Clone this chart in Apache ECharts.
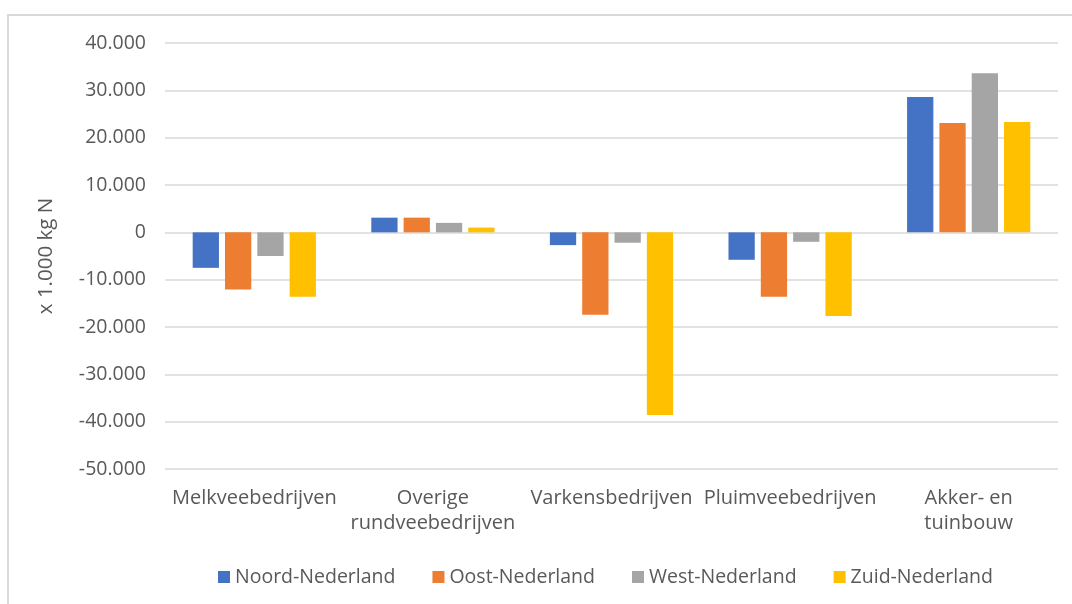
<!DOCTYPE html>
<html>
<head>
<meta charset="utf-8">
<script src="https://cdn.jsdelivr.net/npm/echarts@6/dist/echarts.min.js"></script>
<style>
  html, body { margin: 0; padding: 0; background: #fff; }
  #frame {
    position: absolute; left: 7px; top: 14px; width: 1065px; height: 590px;
    border-left: 2px solid #d9d9d9; border-top: 2px solid #d9d9d9;
    box-sizing: border-box;
  }
  #chart { position: absolute; left: 0; top: 0; width: 1072px; height: 604px; }
</style>
</head>
<body>
<div id="frame"></div>
<div id="chart"></div>
<script>
// categorieën (x-as)
const categories = [
  "Melkveebedrijven",
  "Overige\nrundveebedrijven",
  "Varkensbedrijven",
  "Pluimveebedrijven",
  "Akker- en\ntuinbouw",
];

// waarden in kg N (as toont x 1.000)
const noord = [-7500, 3100, -2700, -5800, 28600];
const oost = [-12100, 3100, -17400, -13600, 23100];
const west = [-5000, 2000, -2200, -2000, 33600];
const zuid = [-13600, 1000, -38600, -17700, 23300];

const seriesNames = ["Noord-Nederland", "Oost-Nederland", "West-Nederland", "Zuid-Nederland"];
const seriesColors = ["#4472C4", "#ED7D31", "#A5A5A5", "#FFC000"];

const textColor = "#595959";
const fontFamily = "'Open Sans', 'Noto Sans', sans-serif";

// 40000 -> "40.000"
const formatNL = (v) => {
  const s = String(Math.abs(v)).replace(/\B(?=(\d{3})+(?!\d))/g, ".");
  return v < 0 ? "-" + s : s;
};

const chart = echarts.init(document.getElementById("chart"));

const allData = [noord, oost, west, zuid];

chart.setOption({
  animation: false,
  textStyle: { fontFamily },
  grid: {
    left: 165,
    right: 14,
    top: 43,
    bottom: 135,
  },
  legend: {
    data: seriesNames,
    bottom: 12,
    left: 213,
    itemWidth: 12,
    itemHeight: 12,
    itemGap: 37,
    icon: "rect",
    textStyle: { color: textColor, fontSize: 19.5, fontFamily },
  },
  xAxis: {
    type: "category",
    data: categories,
    axisLine: { show: false },
    axisTick: { show: false },
    axisLabel: {
      color: textColor,
      fontSize: 20,
      fontFamily,
      lineHeight: 25,
      margin: 17,
      interval: 0,
    },
  },
  yAxis: {
    type: "value",
    min: -50000,
    max: 40000,
    interval: 10000,
    name: "x 1.000 kg N",
    nameLocation: "middle",
    nameGap: 108,
    nameTextStyle: { color: textColor, fontSize: 20.5, fontFamily },
    axisLine: { show: false },
    axisTick: { show: false },
    splitLine: { lineStyle: { color: "#d9d9d9", width: 1.5 } },
    axisLabel: {
      color: textColor,
      fontSize: 19.5,
      fontFamily,
      margin: 19,
      formatter: formatNL,
    },
  },
  series: allData.map((values, i) => ({
    name: seriesNames[i],
    type: "bar",
    data: values,
    barGap: "23%",
    barCategoryGap: "31%",
    itemStyle: { color: seriesColors[i] },
  })),
});
</script>
</body>
</html>
